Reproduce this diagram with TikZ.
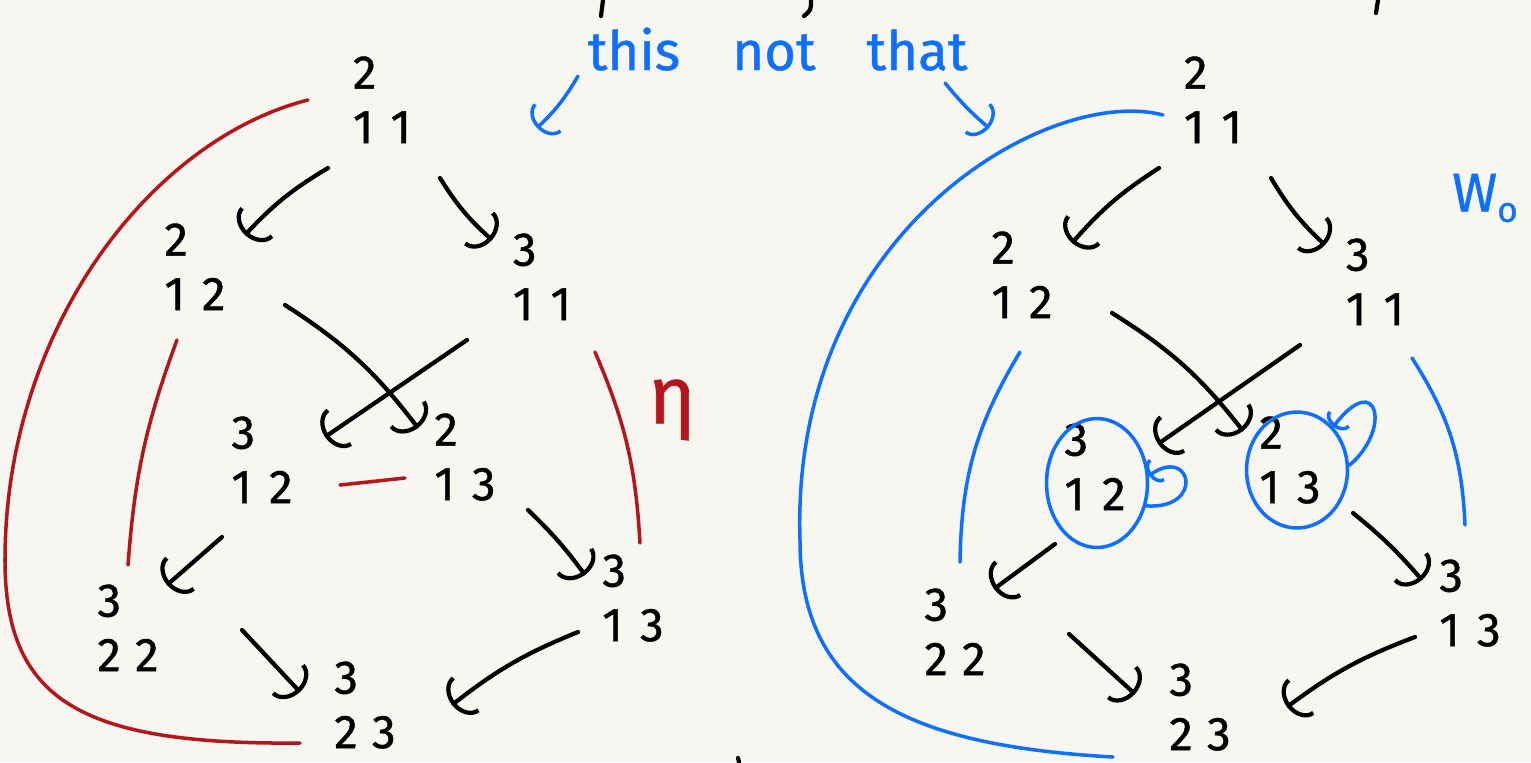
\documentclass[tikz,border=0pt]{standalone}
\usepackage{fontspec}
\setmainfont{Fira Sans}[FakeBold=0.8]
\usepackage{tikz}
\usetikzlibrary{arrows.meta,shapes.geometric}
\definecolor{paper}{HTML}{F8F6F1}
\definecolor{redink}{HTML}{B3161B}
\definecolor{blueink}{HTML}{0F6FFF}
\newcommand{\yt}[3]{\begin{tabular}{@{}l@{\hspace{8pt}}l@{}}#1&\\#2&#3\end{tabular}}
\tikzset{
  yng/.style={inner sep=2pt, font=\fontsize{27}{31}\selectfont},
  arr/.style={-{Arc Barb[length=3.5mm,width=9mm]}, line width=2.4pt, line cap=round, draw=black},
  rel/.style={line width=2pt, line cap=round, draw=redink},
  relb/.style={line width=2pt, line cap=round, draw=blueink},
  ring/.style={ellipse, draw=blueink, line width=2pt, inner sep=0pt},
  loopb/.style={relb, -{Arc Barb[length=2mm,width=5.5mm]}},
  note/.style={text=blueink, font=\fontsize{31}{31}\selectfont},
}
\begin{document}
\begin{tikzpicture}[x=0.02cm, y=-0.02cm]
  \fill[paper] (0,0) rectangle (1531,762);
  \useasboundingbox (0,0) rectangle (1531,762);

  % left tree
  \node[yng] (AL) at (382,105) {\yt{2}{1}{1}};
  \node[yng] (BL) at (195,272) {\yt{2}{1}{2}};
  \node[yng] (CL) at (542,282) {\yt{3}{1}{1}};
  \node[yng] (DL) at (262,465) {\yt{3}{1}{2}};
  \node[yng] (EL) at (465,462) {\yt{2}{1}{3}};
  \node[yng] (FL) at (128,633) {\yt{3}{2}{2}};
  \node[yng] (GL) at (633,603) {\yt{3}{1}{3}};
  \node[yng] (HL) at (365,710) {\yt{3}{2}{3}};

  % right tree
  \node[yng] (AR) at (1213,105) {\yt{2}{1}{1}};
  \node[yng] (BR) at (1022,280) {\yt{2}{1}{2}};
  \node[yng] (CR) at (1375,287) {\yt{3}{1}{1}};
  \node[yng] (DR) at (1095,472) {\yt{3}{1}{2}};
  \node[yng] (ER) at (1290,465) {\yt{2}{1}{3}};
  \node[yng] (FR) at (955,637) {\yt{3}{2}{2}};
  \node[yng] (GR) at (1470,608) {\yt{3}{1}{3}};
  \node[yng] (HR) at (1200,712) {\yt{3}{2}{3}};

  % moves, same in both trees
  \foreach \s in {L,R}{
    \draw[arr] ([shift={(-54,63)}]A\s.center) to[bend right=8] ([shift={(50,-37)}]B\s.center);
    \draw[arr] ([shift={(58,73)}]A\s.center) to[bend right=8] ([shift={(-50,-42)}]C\s.center);
    \draw[arr] ([shift={(90,33)}]B\s.center) to[bend left=10] ([shift={(-47,-34)}]E\s.center);
    \draw[arr] ([shift={(-75,58)}]C\s.center) -- ([shift={(63,-28)}]D\s.center);
    \draw[arr] ([shift={(-40,72)}]D\s.center) -- ([shift={(39,-48)}]F\s.center);
    \draw[arr] ([shift={(63,48)}]E\s.center) to[bend left=5] ([shift={(-48,-28)}]G\s.center);
    \draw[arr] ([shift={(114,-3)}]F\s.center) -- ([shift={(-65,-18)}]H\s.center);
    \draw[arr] ([shift={(-55,29)}]G\s.center) to[bend right=8] ([shift={(87,-5)}]H\s.center);
  }

  % red relation
  \coordinate (redbend) at (5,560);
  \draw[rel] ([shift={(-74,-5)}]AL.center) .. controls (150,140) and (5,330) .. (redbend)
    .. controls (5,700) and (80,745) .. ([shift={(-65,33)}]HL.center);
  \draw[rel] ([shift={(-18,68)}]BL.center) to[bend right=8] ([shift={(0,-68)}]FL.center);
  \draw[rel] ([shift={(53,70)}]CL.center) to[bend left=10] ([shift={(7,-60)}]GL.center);
  \draw[rel] ([shift={(78,20)}]DL.center) -- ([shift={(-60,16)}]EL.center);
  \node[text=redink, font=\fontsize{46}{46}\selectfont] (eta) at (672,410) {η};

  % blue relation
  \coordinate (bluebend) at (800,540);
  \draw[relb] ([shift={(-50,10)}]AR.center) .. controls (1050,85) and (790,230) .. (bluebend)
    .. controls (800,690) and (900,745) .. ([shift={(-87,45)}]HR.center);
  \draw[relb] ([shift={(-2,72)}]BR.center) to[bend right=15] ([shift={(5,-75)}]FR.center);
  \draw[relb] ([shift={(37,71)}]CR.center) to[bend left=15] ([shift={(-5,-83)}]GR.center);
  \node[ring, minimum width=2.02cm, minimum height=2.58cm] (ringD) at (1097,483) {};
  \node[ring, minimum width=2.02cm, minimum height=2.32cm] (ringE) at (1297,470) {};
  \draw[loopb] (ringD.-25) .. controls (1205,510) and (1192,445) .. (ringD.8);
  \draw[loopb] (ringE.5) .. controls (1392,430) and (1378,368) .. (ringE.50);
  \node[note] (wo) at (1485,198) {W\raisebox{-6pt}{\fontsize{20}{20}\selectfont o}};

  % heading
  \node[note, anchor=base] (this) at (634,70) {this};
  \node[note, anchor=base] (not) at (774,70) {not};
  \node[note, anchor=base] (that) at (917,70) {that};
  \coordinate (lefttip) at (537,128);
  \coordinate (righttip) at (989,128);
  \draw[relb, -{Arc Barb[length=3mm,width=8mm]}] ([shift={(-56,27)}]this.center) to[bend left=8] (lefttip);
  \draw[relb, -{Arc Barb[length=3mm,width=8mm]}] ([shift={(28,33)}]that.center) to[bend right=5] (righttip);

  % cut-off strokes at the edges
  \draw[line width=2.4pt, line cap=round] (603,0) -- (601,16);
  \draw[line width=2.4pt, line cap=round] (811,0) .. controls (811,10) .. (804,16);
  \draw[line width=2.4pt, line cap=round] (1378,0) -- (1376,13);
  \draw[line width=2.4pt, line cap=round] (738,758) -- (739,762);
\end{tikzpicture}
\end{document}
